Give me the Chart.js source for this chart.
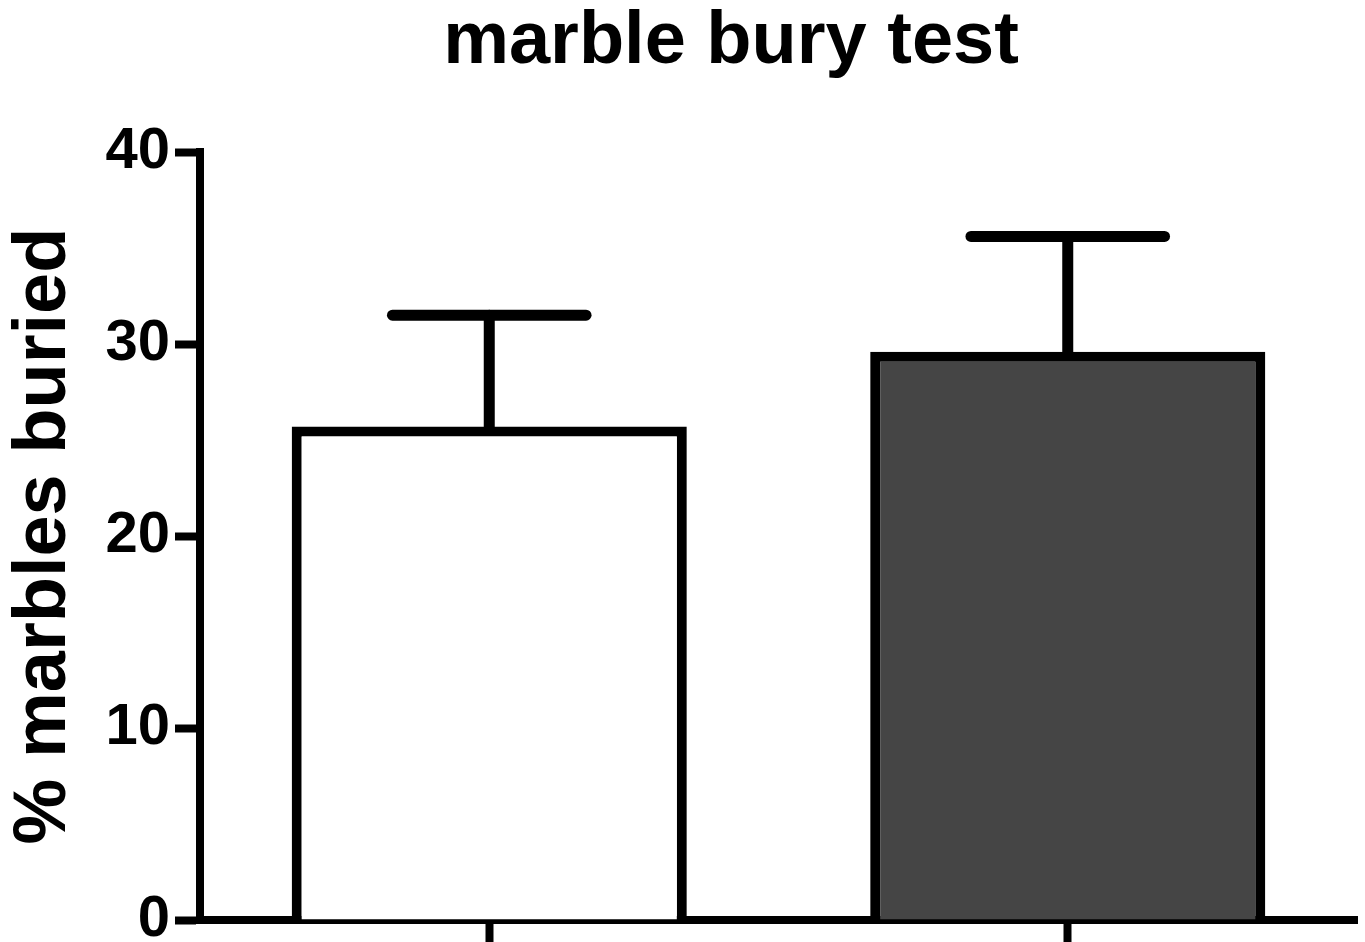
<!DOCTYPE html>
<html>
<head>
<meta charset="utf-8">
<script src="https://cdn.jsdelivr.net/npm/chart.js@4"></script>
<style>
  html, body { margin: 0; padding: 0; background: #ffffff; }
  #wrap { width: 1365px; height: 942px; }
</style>
</head>
<body>
<div id="wrap"><canvas id="c" width="1365" height="942"></canvas></div>
<script>
const chartTitle = 'marble bury test';
const yAxisTitle = '% marbles buried';
const categories = ['Group 1', 'Group 2'];
const means = [25.7, 29.6];
const errors = [5.8, 6.0];
const barColors = ['#ffffff', '#454545'];
const yTicks = [0, 10, 20, 30, 40];

const FONT = 'Liberation Sans, Arial, sans-serif';

const titlePlugin = {
  id: 'offsetTitle',
  afterDraw(chart) {
    const ctx = chart.ctx;
    ctx.save();
    ctx.fillStyle = '#000';
    ctx.font = 'bold 74px ' + FONT;
    ctx.textAlign = 'center';
    ctx.textBaseline = 'alphabetic';
    ctx.fillText(chartTitle, 731, 63);
    ctx.restore();
  }
};

const errorBarPlugin = {
  id: 'errorBars',
  afterDatasetsDraw(chart) {
    const ctx = chart.ctx;
    const meta = chart.getDatasetMeta(0);
    const y = chart.scales.y;
    ctx.save();
    ctx.strokeStyle = '#000';
    ctx.lineWidth = 11;
    ctx.lineCap = 'round';
    meta.data.forEach((bar, i) => {
      const top = y.getPixelForValue(means[i]);
      const cap = y.getPixelForValue(means[i] + errors[i]);
      const half = bar.width * 0.245;
      ctx.beginPath();
      ctx.moveTo(bar.x, top + 2);
      ctx.lineTo(bar.x, cap);
      ctx.stroke();
      ctx.beginPath();
      ctx.moveTo(bar.x - half, cap);
      ctx.lineTo(bar.x + half, cap);
      ctx.stroke();
    });
    ctx.restore();
  }
};

new Chart(document.getElementById('c'), {
  type: 'bar',
  data: {
    labels: categories,
    datasets: [{
      data: means,
      backgroundColor: barColors,
      borderColor: '#000000',
      borderWidth: 10,
      barPercentage: 0.683,
      categoryPercentage: 1.0
    }]
  },
  options: {
    responsive: false,
    animation: false,
    devicePixelRatio: 1,
    layout: { padding: { left: 0, right: 8, top: 152, bottom: 0 } },
    plugins: {
      legend: { display: false },
      tooltip: { enabled: false },
      title: { display: false }
    },
    scales: {
      x: {
        offset: true,
        grid: { offset: false, drawOnChartArea: false, drawTicks: true, tickLength: 24, tickWidth: 8, tickColor: '#000' },
        border: { display: true, color: '#000', width: 8 },
        ticks: { display: false },
        afterFit(scale) {
          scale.height = 22;
          scale.paddingLeft = 0; scale.paddingRight = 0;
        }
      },
      y: {
        min: 0,
        max: 40,
        afterBuildTicks(scale) { scale.ticks = yTicks.map(v => ({ value: v })); },
        grid: { drawOnChartArea: false, drawTicks: true, tickLength: 25, tickWidth: 8, tickColor: '#000' },
        border: { display: true, color: '#000', width: 8 },
        ticks: {
          color: '#000',
          padding: 5,
          font: { family: FONT, size: 58, weight: 'bold' }
        },
        title: {
          display: true,
          text: yAxisTitle,
          color: '#000',
          padding: { top: 8, bottom: 0 },
          font: { family: FONT, size: 74, weight: 'bold', lineHeight: 1.0 }
        },
        afterFit(scale) {
          scale.width = 200;
          scale.paddingTop = 0; scale.paddingBottom = 0;
        }
      }
    }
  },
  plugins: [errorBarPlugin, titlePlugin]
});
</script>
</body>
</html>
